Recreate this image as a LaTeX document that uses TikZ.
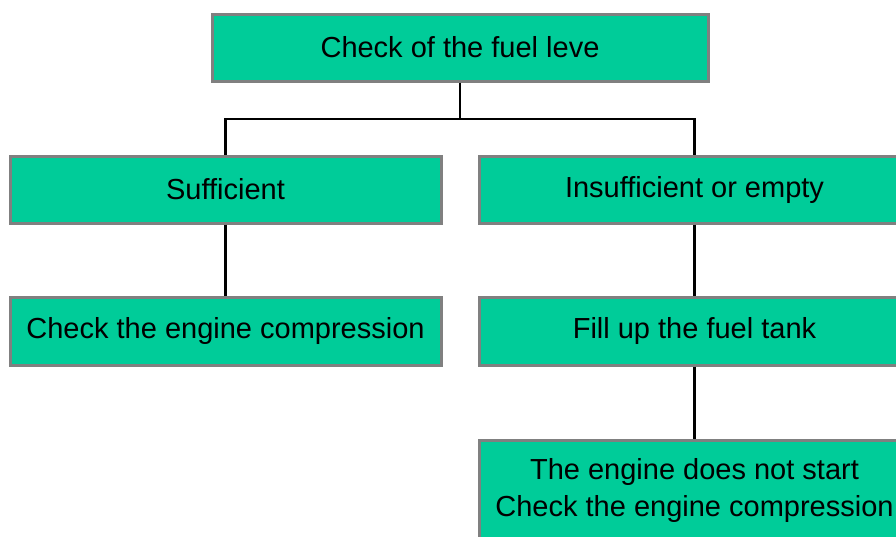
\documentclass[tikz,border=0pt]{standalone}
\usepackage{fontspec}
\setmainfont{Liberation Sans}
\definecolor{boxgreen}{RGB}{0,204,153}
\definecolor{boxgrey}{RGB}{128,128,128}
\begin{document}
\begin{tikzpicture}[x=1pt,y=-1pt,
  fbox/.style={draw=boxgrey, line width=3pt, fill=boxgreen, inner sep=0pt,
    minimum width=431pt, minimum height=67pt, align=center,
    font=\fontsize{29}{37}\selectfont},
  conn/.style={draw=black, line width=2.6pt}]
\useasboundingbox (0,0) rectangle (896,536);
\clip (0,0) rectangle (896,536);
\node[fbox, minimum width=496pt] (top) at (460,47.5) {Check of the fuel leve};
\node[fbox] (suff) at (225.5,189.5) {Sufficient};
\node[fbox] (ins) at (694.5,189.5) {Insufficient or empty};
\node[fbox, minimum height=68pt] (comp) at (225.5,331) {Check the engine compression};
\node[fbox, minimum height=68pt] (fill) at (694.5,331) {Fill up the fuel tank};
\node[fbox, minimum height=101pt] (start) at (694.5,490.5) {The engine does not start\\Check the engine compression};
\coordinate (j) at (460,119);
\draw[conn] (top.south) -- (j);
\draw[conn] (j) -| (suff.north);
\draw[conn] (j) -| (ins.north);
\draw[conn] (suff.south) -- (comp.north);
\draw[conn] (ins.south) -- (fill.north);
\draw[conn] (fill.south) -- (start.north);
\end{tikzpicture}
\end{document}
